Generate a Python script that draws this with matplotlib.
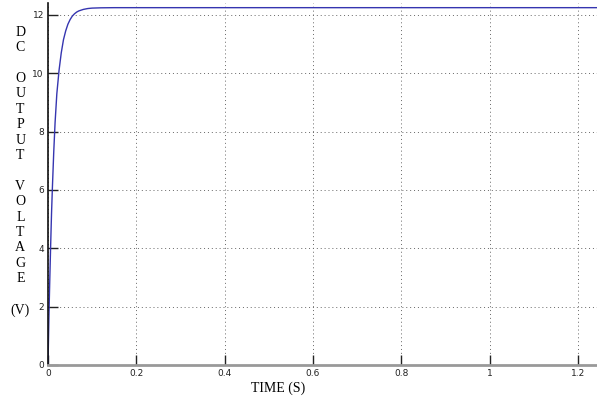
import matplotlib
matplotlib.use('Agg')
from matplotlib import pyplot as plt
import numpy as np

# values
time_s = [0, 0.002, 0.004, 0.006, 0.008, 0.010, 0.013, 0.016, 0.020, 0.025,
          0.030, 0.035, 0.040, 0.045, 0.050, 0.055, 0.060, 0.065, 0.070,
          0.080, 0.090, 0.100, 0.120, 0.150, 1.25]
volts = [0, 1.6, 2.9, 4.1, 5.2, 6.1, 7.3, 8.3, 9.3, 10.1,
         10.7, 11.15, 11.45, 11.68, 11.84, 11.96, 12.04, 12.1, 12.14,
         12.19, 12.22, 12.235, 12.245, 12.25, 12.25]

x_ticks = [0, 0.2, 0.4, 0.6, 0.8, 1, 1.2]
x_tick_labels = ['0', '0.2', '0.4', '0.6', '0.8', '1', '1.2']
y_ticks = [0, 2, 4, 6, 8, 10, 12]

fig = plt.figure(figsize=(5.97, 4.0), dpi=100)
ax = fig.add_axes([0.0804, 0.0875, 0.9196, 0.905])

ax.plot(time_s, volts, color='#3535b0', linewidth=1.0)

ax.set_xlim(0, 1.243)
ax.set_ylim(0, 12.41)
ax.set_xticks(x_ticks)
ax.set_xticklabels(x_tick_labels)
ax.set_yticks(y_ticks)

ax.grid(True, color='#666666', linestyle=(0, (1, 3)), linewidth=0.7)
ax.tick_params(direction='in', length=7.5, width=1.0, color='#222222',
               labelsize=6.5, labelcolor='#222222', pad=3)

for side in ['top', 'right']:
    ax.spines[side].set_visible(False)
ax.spines['left'].set_color('#111111')
ax.spines['left'].set_linewidth(1.2)
ax.spines['bottom'].set_color('#999999')
ax.spines['bottom'].set_linewidth(2.0)

ylab = 'D\nC\n\nO\nU\nT\nP\nU\nT\n\nV\nO\nL\nT\nA\nG\nE\n\n(V)'
fig.text(0.034, 0.572, ylab, ha='center', va='center', fontsize=10,
         family='Liberation Serif', linespacing=1.24)
fig.text(0.466, 0.03, 'TIME (S)', ha='center', va='center', fontsize=10,
         family='Liberation Serif')

plt.savefig('out.png', dpi=100)
